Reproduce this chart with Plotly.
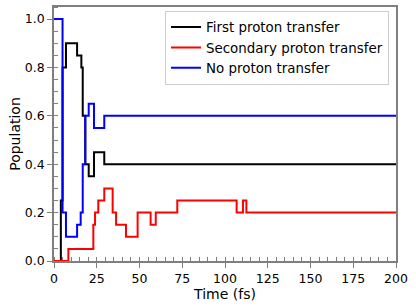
import plotly.graph_objects as go

# Data
time_first = [0, 4, 5, 7, 13.5, 16, 16.8, 18.3, 20.3, 23.4, 29.4, 200]
pop_first = [0, 0.25, 0.8, 0.9, 0.85, 0.8, 0.6, 0.4, 0.35, 0.45, 0.4, 0.4]

time_second = [0, 8.4, 23, 24, 25.9, 29.4, 34.3, 36.3, 42.1, 48.9, 56.5, 59.5,
               72.1, 106.8, 110.5, 112.5, 200]
pop_second = [0, 0.05, 0.15, 0.2, 0.25, 0.3, 0.2, 0.15, 0.1, 0.2, 0.15, 0.2,
              0.25, 0.2, 0.25, 0.2, 0.2]

time_none = [0, 5, 7, 13.5, 15.6, 16.8, 18.3, 20.3, 23.4, 29.4, 200]
pop_none = [1.0, 0.2, 0.1, 0.15, 0.2, 0.4, 0.6, 0.65, 0.55, 0.6, 0.6]

names = ["First proton transfer", "Secondary proton transfer", "No proton transfer"]
colors = ["#000000", "#ff0000", "#0000ff"]

x_ticks = [0, 25, 50, 75, 100, 125, 150, 175, 200]
y_ticks = [0.0, 0.2, 0.4, 0.6, 0.8, 1.0]
y_tick_labels = ["0.0", "0.2", "0.4", "0.6", "0.8", "1.0"]

FONT = "DejaVu Sans"

fig = go.Figure()
for t, p, n, c in zip([time_first, time_second, time_none],
                      [pop_first, pop_second, pop_none], names, colors):
    fig.add_trace(go.Scatter(x=t, y=p, mode="lines", name=n,
                             line=dict(color=c, width=2, shape="hv")))

axis_common = dict(
    showline=True, linecolor="#7f7f7f", linewidth=1.5, mirror=True,
    showgrid=False, zeroline=False,
    ticks="outside", ticklen=5, tickwidth=1.2, tickcolor="#7f7f7f",
    tickfont=dict(family=FONT, size=12.5, color="black"),
    layer="below traces",
)

fig.update_xaxes(
    range=[0, 200], tickvals=x_ticks,
    minor=dict(ticks="inside", dtick=5, ticklen=4, tickwidth=1, tickcolor="#7f7f7f"),
    title=dict(text="Time (fs)", font=dict(family=FONT, size=14, color="black"), standoff=1),
    **axis_common,
)
fig.update_yaxes(
    range=[0, 1.05], tickvals=y_ticks, ticktext=y_tick_labels,
    minor=dict(ticks="inside", dtick=0.05, tick0=0, ticklen=4, tickwidth=1, tickcolor="#7f7f7f"),
    title=dict(text="Population", font=dict(family=FONT, size=14, color="black"), standoff=1),
    **axis_common,
)

fig.update_layout(
    width=416, height=307,
    margin=dict(l=54, r=20, t=7, b=46, autoexpand=False),
    paper_bgcolor="white", plot_bgcolor="white",
    font=dict(family=FONT, color="black"),
    showlegend=True,
    legend=dict(
        x=0.3246, y=0.985, xanchor="left", yanchor="top",
        bgcolor="rgba(255,255,255,0.8)", bordercolor="#cccccc", borderwidth=1,
        font=dict(family=FONT, size=13.4, color="black"),
        itemwidth=30, tracegroupgap=0,
    ),
)

fig.write_html("out.html", config={"displayModeBar": False},
               post_script="document.body.style.margin='0';")
